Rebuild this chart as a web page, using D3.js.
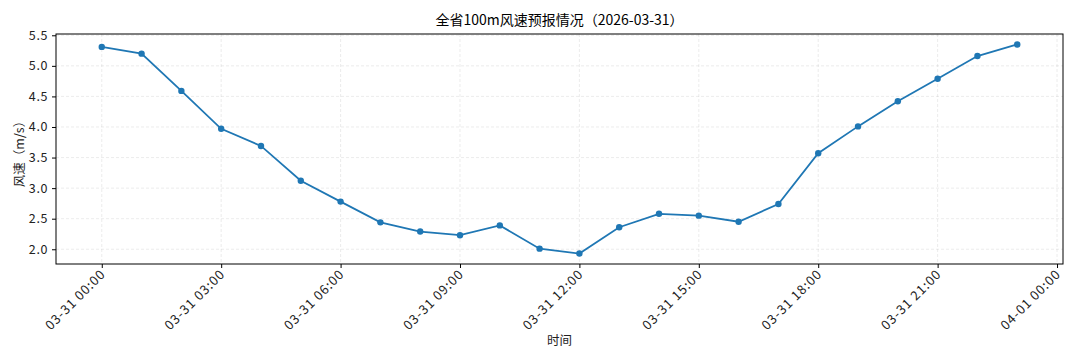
<!DOCTYPE html>
<html><head><meta charset="utf-8">
<script src="https://cdn.jsdelivr.net/npm/d3@7"></script>
<style>body{margin:0;background:#fff}svg{display:block}</style>
</head><body><svg id="c" width="1080" height="360"></svg>
<script>
const title = "全省100m风速预报情况（2026-03-31）";
const xLabel = "时间";
const yLabel = "风速（m/s）";
const times = ["2026-03-31 00:00","2026-03-31 01:00","2026-03-31 02:00","2026-03-31 03:00","2026-03-31 04:00","2026-03-31 05:00","2026-03-31 06:00","2026-03-31 07:00","2026-03-31 08:00","2026-03-31 09:00","2026-03-31 10:00","2026-03-31 11:00","2026-03-31 12:00","2026-03-31 13:00","2026-03-31 14:00","2026-03-31 15:00","2026-03-31 16:00","2026-03-31 17:00","2026-03-31 18:00","2026-03-31 19:00","2026-03-31 20:00","2026-03-31 21:00","2026-03-31 22:00","2026-03-31 23:00"];
const speeds = [5.31,5.20,4.59,3.97,3.69,3.12,2.78,2.44,2.29,2.23,2.39,2.01,1.93,2.36,2.58,2.55,2.45,2.74,3.57,4.01,4.42,4.79,5.16,5.35];
const xTickTimes = ["2026-03-31 00:00","2026-03-31 03:00","2026-03-31 06:00","2026-03-31 09:00","2026-03-31 12:00","2026-03-31 15:00","2026-03-31 18:00","2026-03-31 21:00","2026-04-01 00:00"];
const xTickLabels = ["03-31 00:00","03-31 03:00","03-31 06:00","03-31 09:00","03-31 12:00","03-31 15:00","03-31 18:00","03-31 21:00","04-01 00:00"];
const yTicks = [2.0,2.5,3.0,3.5,4.0,4.5,5.0,5.5];

const parse = d3.timeParse("%Y-%m-%d %H:%M");
const data = times.map((t,i)=>({t:parse(t), v:speeds[i]}));
const L=56, R=1063, T=34, B=264;
const font = "'Noto Sans CJK SC', 'DejaVu Sans', sans-serif";
const svg = d3.select("#c").style("font-family", font);

const t0 = data[0].t, t1 = data[data.length-1].t;
const span = t1 - t0, m = span*0.05;
const x = d3.scaleTime().domain([new Date(+t0 - m), new Date(+t1 + m)]).range([L,R]);
const ymin = d3.min(speeds), ymax = d3.max(speeds), ym = (ymax-ymin)*0.05;
const y = d3.scaleLinear().domain([ymin-ym, ymax+ym]).range([B,T]);

const xt = xTickTimes.map(parse);
// grid
const g = svg.append("g");
g.selectAll(".vx").data(xt).join("line")
  .attr("x1",d=>x(d)).attr("x2",d=>x(d)).attr("y1",T).attr("y2",B)
  .attr("stroke","#b0b0b0").attr("stroke-opacity",0.3).attr("stroke-dasharray","3,2").attr("stroke-width",0.8);
g.selectAll(".hy").data(yTicks).join("line")
  .attr("y1",d=>y(d)).attr("y2",d=>y(d)).attr("x1",L).attr("x2",R)
  .attr("stroke","#b0b0b0").attr("stroke-opacity",0.3).attr("stroke-dasharray","3,2").attr("stroke-width",0.8);

// line
svg.append("path").datum(data)
  .attr("d", d3.line().x(d=>x(d.t)).y(d=>y(d.v)))
  .attr("fill","none").attr("stroke","#1f77b4").attr("stroke-width",1.8);
svg.selectAll(".pt").data(data).join("circle")
  .attr("cx",d=>x(d.t)).attr("cy",d=>y(d.v)).attr("r",3.2).attr("fill","#1f77b4");

// axes
const xAxis = d3.axisBottom(x).tickValues(xt).tickFormat((d,i)=>xTickLabels[i]).tickSize(4).tickPadding(3);
const xa = svg.append("g").attr("transform",`translate(0,${B})`).call(xAxis);
xa.select(".domain").remove();
xa.selectAll("line").attr("stroke","#000");
xa.selectAll("text").attr("font-size",13).attr("letter-spacing","0.9px").attr("fill","#222").attr("font-family",font)
  .attr("text-anchor","end").attr("dy",null).attr("y",null)
  .attr("transform","translate(4,11) rotate(-45)");

const yAxis = d3.axisLeft(y).tickValues(yTicks).tickFormat(d3.format(".1f")).tickSize(4).tickPadding(4);
const ya = svg.append("g").attr("transform",`translate(${L},0)`).call(yAxis);
ya.select(".domain").remove();
ya.selectAll("line").attr("stroke","#000");
ya.selectAll("text").attr("font-size",12.5).attr("letter-spacing","0.6px").attr("fill","#222").attr("font-family",font);

svg.append("rect").attr("x",L).attr("y",T).attr("width",R-L).attr("height",B-T)
  .attr("fill","none").attr("stroke","#000").attr("stroke-width",1);

svg.append("text").attr("x",(L+R)/2).attr("y",25).attr("text-anchor","middle")
  .attr("font-size",14).attr("fill","#000").text(title);
svg.append("text").attr("x",(L+R)/2).attr("y",345).attr("text-anchor","middle")
  .attr("font-size",12.5).attr("fill","#222").text(xLabel);
svg.append("text").attr("transform",`translate(24,${(T+B)/2+2}) rotate(-90)`).attr("text-anchor","middle")
  .attr("font-size",12.5).attr("fill","#222").text(yLabel);
</script></body></html>
